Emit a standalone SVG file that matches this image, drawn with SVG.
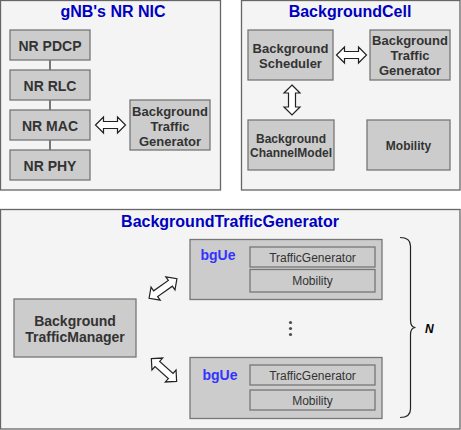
<svg xmlns="http://www.w3.org/2000/svg" xmlns:xlink="http://www.w3.org/1999/xlink" width="461" height="430" viewBox="0 0 461 430">
<style>
.panel{fill:#f4f4f4;stroke:#666666;stroke-width:1.3}
.box{fill:#cccccc;stroke:#777777;stroke-width:1.3}
.title{font-family:"Liberation Sans",Arial,sans-serif;font-weight:bold;font-size:16px;fill:#0000c0;text-anchor:middle}
.t14{font-family:"Liberation Sans",Arial,sans-serif;font-weight:bold;font-size:14px;fill:#333333;text-anchor:middle}
.t13{font-family:"Liberation Sans",Arial,sans-serif;font-weight:bold;font-size:13px;fill:#333333;text-anchor:middle}
.t12{font-family:"Liberation Sans",Arial,sans-serif;font-weight:bold;font-size:12px;fill:#333333;text-anchor:middle}
.r12{font-family:"Liberation Sans",Arial,sans-serif;font-size:12px;fill:#333333;text-anchor:middle}
.ue{font-family:"Liberation Sans",Arial,sans-serif;font-weight:bold;font-size:14px;fill:#3333ff}
.arr{fill:#ffffff;stroke:#222222;stroke-width:1.2;stroke-linejoin:miter}
.line{stroke:#222222;stroke-width:1.2;fill:none}
</style>
<defs>
<path id="da30" class="arr" d="M-15,0 L-7,-8 L-7,-3.5 L7,-3.5 L7,-8 L15,0 L7,8 L7,3.5 L-7,3.5 L-7,8 Z"/>
<path id="da34" class="arr" d="M-17,0 L-9,-8 L-9,-3.5 L9,-3.5 L9,-8 L17,0 L9,8 L9,3.5 L-9,3.5 L-9,8 Z"/>
</defs>

<g id="panel-nic">
<rect class="panel" x="0.5" y="0.5" width="220" height="189.5"/>
<text class="title" x="113" y="17">gNB's NR NIC</text>
</g>
<g id="panel-cell">
<rect class="panel" x="241.5" y="0.5" width="218.5" height="189.5"/>
<text class="title" x="350" y="17">BackgroundCell</text>
</g>
<g id="panel-btg">
<rect class="panel" x="0.5" y="209.5" width="459.5" height="219.5"/>
<text class="title" x="230" y="227">BackgroundTrafficGenerator</text>
</g>

<g id="connectors">
<line class="line" x1="50" y1="60" x2="50" y2="70"/>
<line class="line" x1="50" y1="100" x2="50" y2="110"/>
<line class="line" x1="50" y1="140" x2="50" y2="150"/>
<use xlink:href="#da30" href="#da30" transform="translate(110.5,125)"/>
<use xlink:href="#da30" href="#da30" transform="translate(351.5,55)"/>
<use xlink:href="#da30" href="#da30" transform="translate(292,100) rotate(90)"/>
<use xlink:href="#da34" href="#da34" transform="translate(163,288.5) rotate(-35)"/>
<use xlink:href="#da34" href="#da34" transform="translate(164,370) rotate(42)"/>
</g>

<g id="nr-pdcp"><rect class="box" x="10" y="30" width="80" height="30"/><text class="t14" x="50" y="50.5">NR PDCP</text></g>
<g id="nr-rlc"><rect class="box" x="10" y="70" width="80" height="30"/><text class="t14" x="50" y="90.5">NR RLC</text></g>
<g id="nr-mac"><rect class="box" x="10" y="110" width="80" height="30"/><text class="t14" x="50" y="130.5">NR MAC</text></g>
<g id="nr-phy"><rect class="box" x="10" y="150" width="80" height="30"/><text class="t14" x="50" y="170.5">NR PHY</text></g>
<g id="nic-btg"><rect class="box" x="130" y="100" width="80" height="50"/>
<text class="t13" x="170" y="115.5">Background</text><text class="t13" x="170" y="130.5">Traffic</text><text class="t13" x="170" y="145.5">Generator</text></g>

<g id="bg-scheduler"><rect class="box" x="248" y="30" width="85" height="50"/>
<text class="t13" x="290.5" y="52.5">Background</text><text class="t13" x="290.5" y="67.5">Scheduler</text></g>
<g id="cell-btg"><rect class="box" x="370" y="30" width="80" height="50"/>
<text class="t13" x="410" y="45">Background</text><text class="t13" x="410" y="60">Traffic</text><text class="t13" x="410" y="75">Generator</text></g>
<g id="bg-channelmodel"><rect class="box" x="248" y="120" width="86" height="50"/>
<text class="t12" x="291" y="142.5">Background</text><text class="t12" x="291" y="157">ChannelModel</text></g>
<g id="cell-mobility"><rect class="box" x="367" y="120" width="83" height="50"/>
<text class="t12" x="408.5" y="149.5">Mobility</text></g>

<g id="bg-trafficmanager"><rect class="box" x="14" y="299" width="122" height="58"/>
<text class="t14" x="75" y="326">Background</text><text class="t14" x="75" y="341.5">TrafficManager</text></g>

<g id="bgue-1"><rect class="box" x="190" y="239.5" width="192" height="60"/>
<text class="ue" x="200.5" y="260">bgUe</text>
<rect class="box" x="250" y="247" width="125" height="20"/><text class="r12" x="312.5" y="261.5">TrafficGenerator</text>
<rect class="box" x="250" y="269.5" width="125" height="22.5"/><text class="r12" x="312.5" y="285">Mobility</text></g>

<g id="bgue-n"><rect class="box" x="190" y="357.5" width="192" height="61"/>
<text class="ue" x="202.5" y="380">bgUe</text>
<rect class="box" x="250" y="365" width="125" height="20"/><text class="r12" x="312.5" y="379.5">TrafficGenerator</text>
<rect class="box" x="250" y="390" width="125" height="20"/><text class="r12" x="312.5" y="404.5">Mobility</text></g>

<g id="ellipsis" fill="#4d4d4d">
<circle cx="290.5" cy="322.5" r="1.6"/><circle cx="290.5" cy="328.5" r="1.6"/><circle cx="290.5" cy="334.5" r="1.6"/>
</g>

<g id="brace">
<path class="line" d="M400,237.5 Q410.5,237.5 410.5,246 L410.5,320 Q410.5,327.5 415.5,327.5 Q410.5,327.5 410.5,335 L410.5,409 Q410.5,417.5 400,417.5"/>
<text x="425" y="332.5" font-family="'Liberation Sans',Arial,sans-serif" font-weight="bold" font-style="italic" font-size="12" fill="#000000">N</text>
</g>
</svg>
